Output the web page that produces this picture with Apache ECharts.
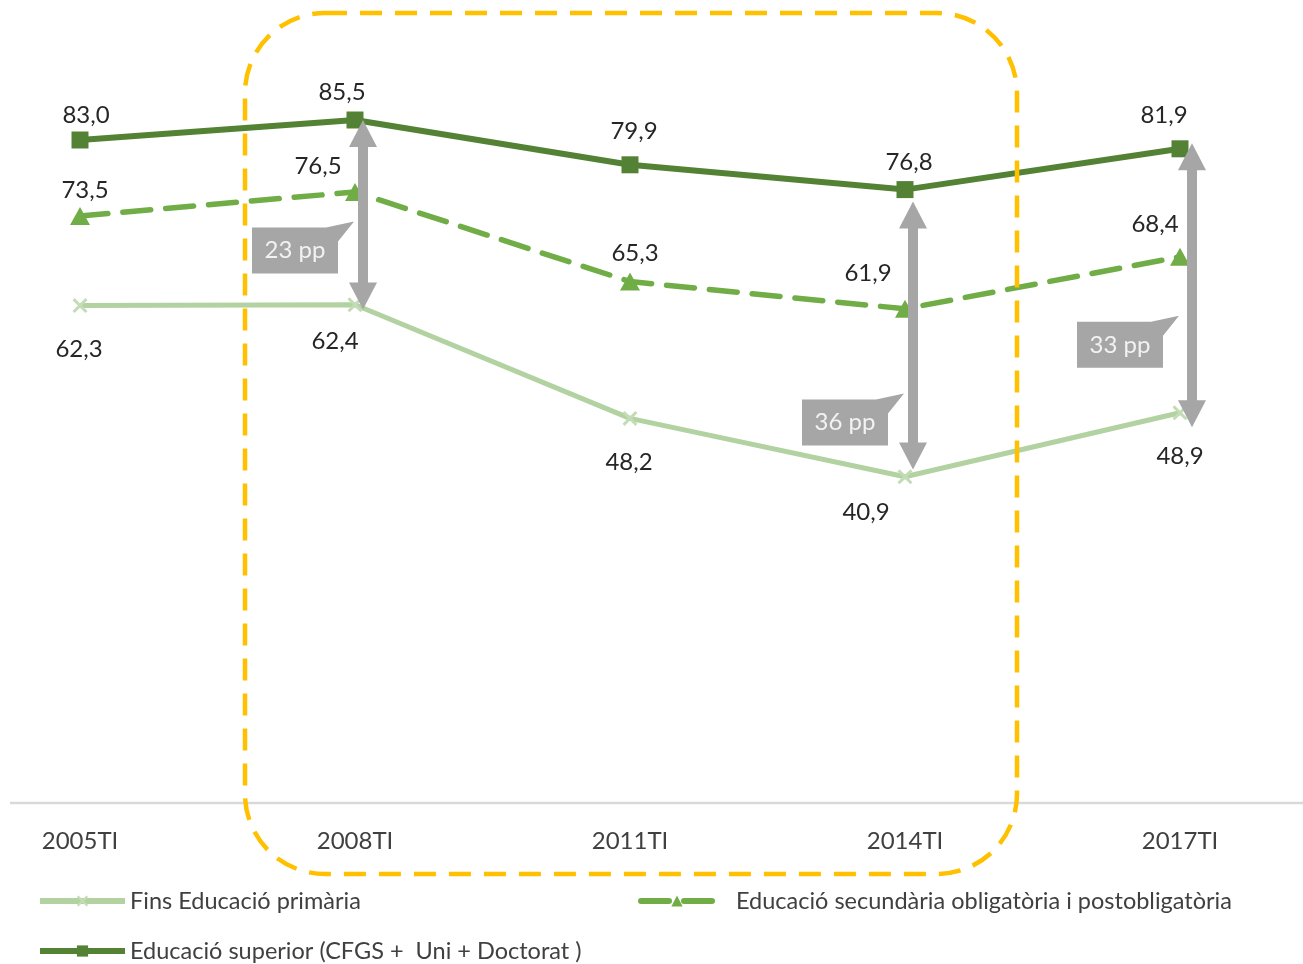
<!DOCTYPE html>
<html>
<head>
<meta charset="utf-8">
<script src="https://cdn.jsdelivr.net/npm/echarts@6/dist/echarts.min.js"></script>
<style>html,body{margin:0;padding:0;background:#fff;}#c{width:1303px;height:964px;}</style>
</head>
<body>
<div id="c"></div>
<script>
const categories = ['2005TI','2008TI','2011TI','2014TI','2017TI'];
const primaria = [62.3, 62.4, 48.2, 40.9, 48.9];
const secundaria = [73.5, 76.5, 65.3, 61.9, 68.4];
const superior = [83.0, 85.5, 79.9, 76.8, 81.9];
const gapCategories = ['2008TI','2014TI','2017TI'];
const gapTop = [85.5, 75.3, 82.6];
const gapBottom = [61.8, 41.8, 47.1];
const gapLabels = ['23 pp','36 pp','33 pp'];
const gapLabelLevel = [69.2, 47.7, 57.4];
const names = ['Fins Educació primària','Educació secundària obligatòria i postobligatòria','Educació superior (CFGS +  Uni + Doctorat )'];

const FONT = 'Lato';
const fmt = v => v.toFixed(1).replace('.', ',');

function withLabels(values, shifts) {
  return values.map((v, i) => ({ value: v, label: { offset: shifts[i] } }));
}

const crossPath = 'path://M0,1.4L1.4,0L5,3.6L8.6,0L10,1.4L6.4,5L10,8.6L8.6,10L5,6.4L1.4,10L0,8.6L3.6,5Z';

const legendText = { color: '#404040', fontFamily: FONT, fontSize: 23.5, lineHeight: 24 };
function legendFor(name, left, top, w, pad) {
  return { data: [name], orient: 'horizontal', left: left, top: top, padding: 0, itemWidth: w, itemHeight: 14,
    lineStyle: { width: 6 },
    textStyle: Object.assign({}, legendText, { padding: [0, 0, 0, pad] }) };
}

const chart = echarts.init(document.getElementById('c'));
chart.setOption({
  animation: false,
  grid: { left: 80, right: 123, top: 4, bottom: 160 },
  xAxis: {
    type: 'category', data: categories, boundaryGap: false,
    axisLine: { show: false }, axisTick: { show: false },
    axisLabel: { color: '#404040', fontFamily: FONT, fontSize: 24, margin: 25 }
  },
  yAxis: { type: 'value', min: 0, max: 100, show: false, splitLine: { show: false } },
  legend: [
    legendFor(names[0], 37, 889, 85, 0),
    legendFor(names[1], 638, 889, 72, 18),
    legendFor(names[2], 37, 939, 85, 0)
  ],
  graphic: [
    { type: 'line', z: 0, shape: { x1: 10, y1: 803, x2: 1303, y2: 803 }, style: { stroke: '#D9D9D9', lineWidth: 2.5 } },
    { type: 'rect', z: 100, shape: { x: 245, y: 13, width: 772, height: 861, r: 80 },
      style: { fill: 'none', stroke: '#FFC000', lineWidth: 4.5, lineDash: [22, 13] } }
  ],
  series: [
    {
      name: names[0], type: 'line', data: withLabels(primaria, [[-1,0],[-20,-7],[-1,0],[-39,-8],[0,0]]),
      symbol: crossPath, symbolSize: 15, z: 2,
      lineStyle: { color: '#B2D2A1', width: 5 }, itemStyle: { color: '#C3DCB6' },
      label: { show: true, position: 'bottom', distance: 24, formatter: p => fmt(p.value), color: '#262626', fontFamily: FONT, fontSize: 24 }
    },
    {
      name: names[1], type: 'line', data: withLabels(secundaria, [[5,0],[-37,0],[5,-2],[-37,-10],[-25,-7]]),
      symbol: 'triangle', symbolSize: [20, 18], z: 3,
      lineStyle: { color: '#70AD47', width: 5.5, type: [28, 15], cap: 'round' }, itemStyle: { color: '#70AD47' },
      label: { show: true, position: 'top', distance: 5, formatter: p => fmt(p.value), color: '#262626', fontFamily: FONT, fontSize: 24 }
    },
    {
      name: names[2], type: 'line', data: withLabels(superior, [[6,0],[-13,-3],[4,-9],[4,-3],[-16,-9]]),
      symbol: 'rect', symbolSize: 17, z: 4,
      lineStyle: { color: '#548235', width: 6 }, itemStyle: { color: '#548235' },
      label: { show: true, position: 'top', distance: 4, formatter: p => fmt(p.value), color: '#262626', fontFamily: FONT, fontSize: 24 }
    },
    {
      type: 'custom', z: 10, silent: true,
      data: gapCategories.map((c, i) => [categories.indexOf(c), gapTop[i], gapBottom[i], gapLabelLevel[i], i]),
      renderItem: function (params, api) {
        const idx = api.value(4);
        const top = api.coord([api.value(0), api.value(1)]);
        const bot = api.coord([api.value(0), api.value(2)]);
        const lab = api.coord([api.value(0), api.value(3)]);
        const x = top[0] + (idx === 2 ? 12 : 8);
        const yT = top[1], yB = bot[1];
        const hw = 14, sw = 5, hl = 27;
        const arrow = [[x,yT],[x+hw,yT+hl],[x+sw,yT+hl],[x+sw,yB-hl],[x+hw,yB-hl],[x,yB],[x-hw,yB-hl],[x-sw,yB-hl],[x-sw,yT+hl],[x-hw,yT+hl]];
        const cx = top[0] - 60, cy = lab[1];
        const L = cx - 43, R = cx + 43, T = cy - 23, B = cy + 23;
        const callout = [[L,T],[R-12,T],[R+16,T-6],[R,T+14],[R,B],[L,B]];
        return {
          type: 'group',
          children: [
            { type: 'polygon', shape: { points: arrow }, style: { fill: '#A6A6A6' } },
            { type: 'polygon', shape: { points: callout }, style: { fill: '#A6A6A6' } },
            { type: 'text', style: { text: gapLabels[idx], x: cx, y: cy, align: 'center', verticalAlign: 'middle',
                fill: '#F2F2F2', font: '24px ' + FONT } }
          ]
        };
      }
    }
  ]
});
</script>
</body>
</html>
